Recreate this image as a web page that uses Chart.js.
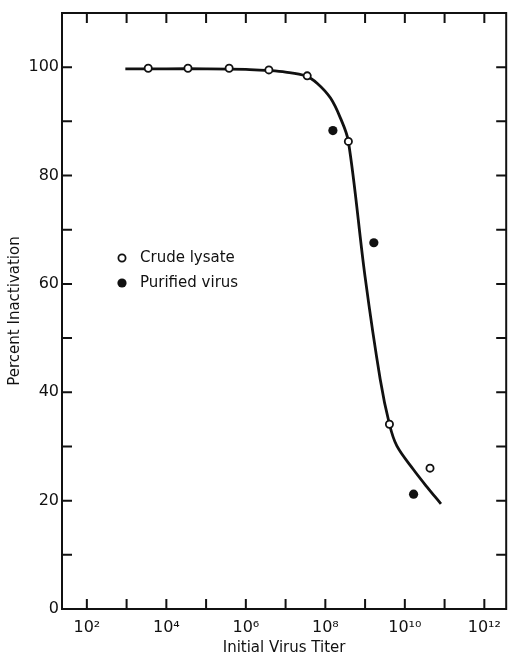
<!DOCTYPE html>
<html>
<head>
<meta charset="utf-8">
<script src="https://cdn.jsdelivr.net/npm/chart.js@4.4.0/dist/chart.umd.min.js"></script>
<style>
  html, body { margin: 0; padding: 0; background: #fff; }
  #wrap { width: 512px; height: 660px; }
</style>
</head>
<body>
<div id="wrap"><canvas id="titerChart" width="512" height="660"></canvas></div>
<script>
/* --------------- Values ----------------------------------------- */
const crudeTiter = [3.5e3, 3.5e4, 3.8e5, 3.8e6, 3.5e7, 3.8e8, 4.1e9, 4.3e10];
const crudeInact = [99.8, 99.8, 99.8, 99.5, 98.4, 86.3, 34.1, 26.0];
const purifiedTiter = [1.55e8, 1.66e9, 1.66e10];
const purifiedInact = [88.3, 67.6, 21.2];
/* fitted curve, traced point by point */
const curveTiter = [9.3e2, 1e4, 1e5, 1e6, 3.2e6, 1e7, 3.2e7, 6.3e7, 1.35e8, 2.4e8, 3.8e8, 1e9, 2.4e9, 4.1e9, 6.3e9, 1.66e10, 3.55e10, 8.1e10];
const curveInact = [99.7, 99.7, 99.7, 99.6, 99.4, 99.1, 98.4, 97.0, 94.3, 90.6, 86.3, 61.3, 42.4, 34.1, 30.1, 25.7, 22.6, 19.4];
/* --------------- Ticks And Labels --------------------- */
const xTickValues = [1e2, 1e3, 1e4, 1e5, 1e6, 1e7, 1e8, 1e9, 1e10, 1e11, 1e12];
const xTickLabels = { 2: "10²", 4: "10⁴", 6: "10⁶", 8: "10⁸", 10: "10¹⁰", 12: "10¹²" };
const yTickValues = [0, 10, 20, 30, 40, 50, 60, 70, 80, 90, 100, 110];
const yLabelEvery = 20;
const seriesNames = ["Crude lysate", "Purified virus"];

const ink = "#111111";
const fontFamily = "'DejaVu Sans', sans-serif";

const toPoints = (xs, ys) => xs.map((x, i) => ({ x: x, y: ys[i] }));

/* --------------- Frame with inward ticks --------------------- */
const framePlugin = {
  id: "frame",
  beforeDatasetsDraw(chart) {
    const { ctx, chartArea: a, scales } = chart;
    const len = 10;
    ctx.save();
    ctx.strokeStyle = ink;
    ctx.lineWidth = 2;
    ctx.strokeRect(a.left, a.top, a.right - a.left, a.bottom - a.top);
    ctx.beginPath();
    scales.x.ticks.forEach((t) => {
      const px = scales.x.getPixelForValue(t.value);
      ctx.moveTo(px, a.bottom);
      ctx.lineTo(px, a.bottom - len);
      ctx.moveTo(px, a.top);
      ctx.lineTo(px, a.top + len);
    });
    scales.y.ticks.forEach((t) => {
      if (t.value <= 0 || t.value >= 110) return;
      const py = scales.y.getPixelForValue(t.value);
      ctx.moveTo(a.left, py);
      ctx.lineTo(a.left + len, py);
      ctx.moveTo(a.right, py);
      ctx.lineTo(a.right - len, py);
    });
    ctx.stroke();
    ctx.restore();
  },
};

/* --------------- Legend inside the plot --------------------- */
const legendPlugin = {
  id: "innerLegend",
  afterDraw(chart) {
    const { ctx, chartArea: a } = chart;
    const x = a.left + 60;
    const rows = [a.top + 245, a.top + 270];
    ctx.save();
    ctx.font = "15px " + fontFamily;
    ctx.textBaseline = "middle";
    rows.forEach((y, i) => {
      const ds = chart.data.datasets[i];
      ctx.beginPath();
      ctx.arc(x, y, ds.pointRadius, 0, Math.PI * 2);
      ctx.fillStyle = ds.pointBackgroundColor;
      ctx.fill();
      if (ds.pointBorderWidth > 0) {
        ctx.lineWidth = ds.pointBorderWidth;
        ctx.strokeStyle = ink;
        ctx.stroke();
      }
      ctx.fillStyle = ink;
      ctx.fillText(seriesNames[i], x + 18, y);
    });
    ctx.restore();
  },
};

new Chart(document.getElementById("titerChart"), {
  type: "scatter",
  plugins: [framePlugin, legendPlugin],
  data: {
    datasets: [
      {
        label: seriesNames[0],
        data: toPoints(crudeTiter, crudeInact),
        pointRadius: 3.6,
        pointBorderWidth: 1.8,
        pointBackgroundColor: "#ffffff",
        pointBorderColor: ink,
        order: 1,
      },
      {
        label: seriesNames[1],
        data: toPoints(purifiedTiter, purifiedInact),
        pointRadius: 4.6,
        pointBorderWidth: 0,
        pointBackgroundColor: ink,
        pointBorderColor: ink,
        order: 1,
      },
      {
        label: "curve",
        data: toPoints(curveTiter, curveInact),
        showLine: true,
        pointRadius: 0,
        borderColor: ink,
        borderWidth: 2.8,
        tension: 0.35,
        order: 3,
      },
    ],
  },
  options: {
    responsive: false,
    animation: false,
    layout: { padding: { top: 13, right: 2, left: 0, bottom: 0 } },
    plugins: {
      legend: { display: false },
      tooltip: { enabled: false },
    },
    scales: {
      x: {
        type: "logarithmic",
        min: 23.7,
        max: 3.55e12,
        afterBuildTicks: (s) => {
          s.ticks = xTickValues.map((v) => ({ value: v }));
        },
        afterFit: (s) => {
          s.height = 51;
          s.paddingLeft = 0;
          s.paddingRight = 0;
        },
        grid: { display: false, drawTicks: false },
        border: { display: false },
        ticks: {
          autoSkip: false,
          maxRotation: 0,
          padding: 9,
          color: ink,
          font: { family: fontFamily, size: 16 },
          callback: (v) => xTickLabels[Math.round(Math.log10(v))] || "",
        },
        title: {
          display: true,
          text: "Initial Virus Titer",
          color: ink,
          font: { family: fontFamily, size: 15 },
          padding: { top: 0, bottom: 3 },
        },
      },
      y: {
        min: 0,
        max: 110,
        afterBuildTicks: (s) => {
          s.ticks = yTickValues.map((v) => ({ value: v }));
        },
        afterFit: (s) => {
          s.width = 62;
          s.paddingTop = 0;
          s.paddingBottom = 0;
        },
        grid: { display: false, drawTicks: false },
        border: { display: false },
        ticks: {
          padding: 3,
          color: ink,
          font: { family: fontFamily, size: 16 },
          callback: (v) => (v % yLabelEvery === 0 ? v : ""),
        },
        title: {
          display: true,
          text: "Percent Inactivation",
          color: ink,
          font: { family: fontFamily, size: 15 },
          padding: { top: 6, bottom: 0 },
        },
      },
    },
  },
});
</script>
</body>
</html>
